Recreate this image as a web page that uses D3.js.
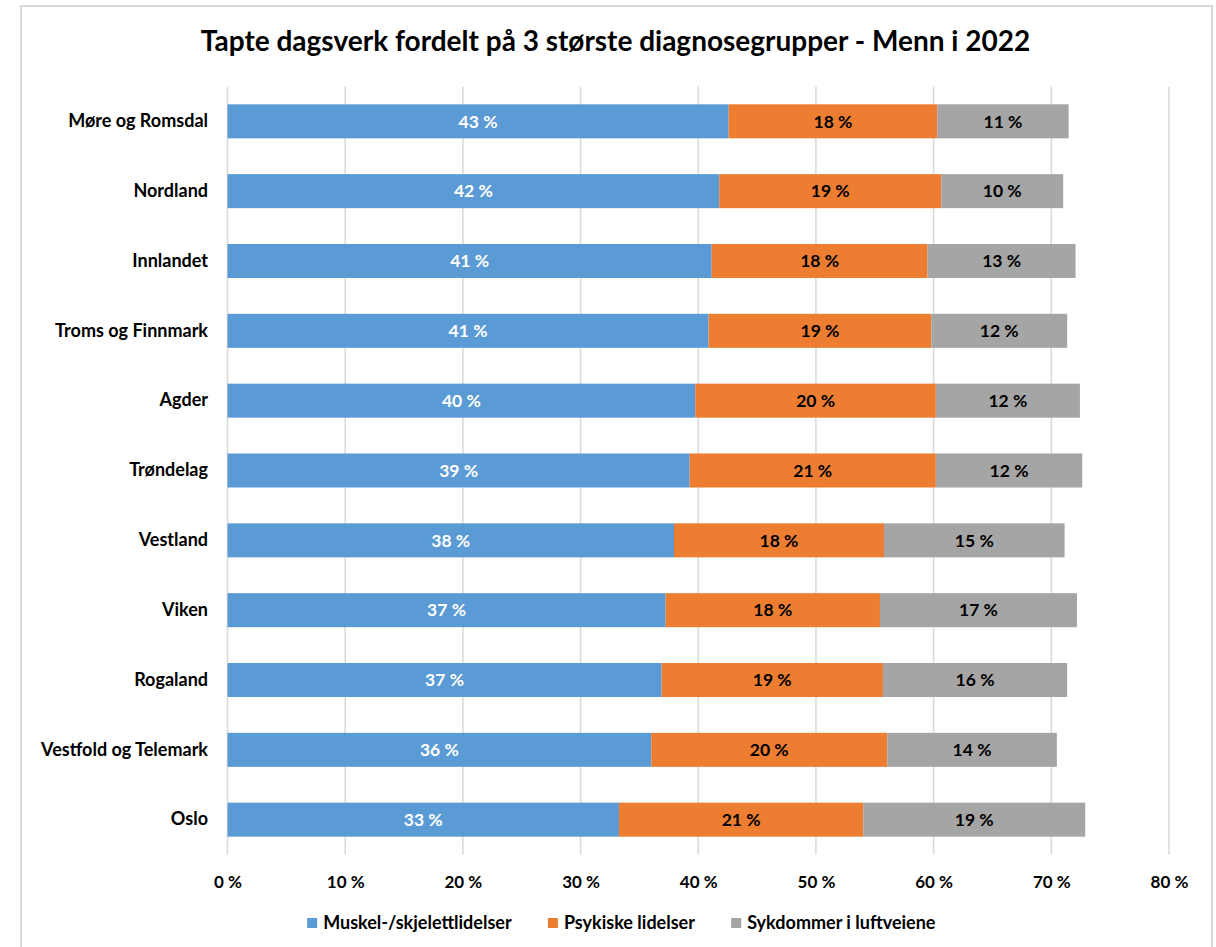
<!DOCTYPE html>
<html lang="no">
<head>
<meta charset="utf-8">
<title>Tapte dagsverk fordelt på 3 største diagnosegrupper - Menn i 2022</title>
<script src="https://cdn.jsdelivr.net/npm/d3@7"></script>
<style>
  html, body { margin: 0; padding: 0; background: #fff; }
  svg { display: block; }
  text { font-family: Lato, "Open Sans", "Noto Sans", sans-serif; font-weight: 700; fill: #000; }
</style>
</head>
<body>
<svg id="chart" width="1216" height="947"></svg>
<script>
// Regions, top to bottom
const regions = [
  "Møre og Romsdal", "Nordland", "Innlandet", "Troms og Finnmark", "Agder",
  "Trøndelag", "Vestland", "Viken", "Rogaland", "Vestfold og Telemark", "Oslo"
];

// Share of lost work days (%) per diagnosis group
const muskel  = [42.58, 41.78, 41.14, 40.88, 39.75, 39.27, 37.94, 37.23, 36.89, 36.01, 33.26];
const psykisk = [17.73, 18.87, 18.35, 18.92, 20.44, 20.92, 17.84, 18.21, 18.80, 20.05, 20.76];
const luftvei = [11.16, 10.36, 12.57, 11.55, 12.24, 12.44, 15.35, 16.74, 15.66, 14.41, 18.86];

const seriesNames = ["Muskel-/skjelettlidelser", "Psykiske lidelser", "Sykdommer i luftveiene"];
const seriesColors = ["#5B9BD5", "#ED7D31", "#A5A5A5"];
const labelColors = ["#ffffff", "#000000", "#000000"];

const xTicks = [0, 10, 20, 30, 40, 50, 60, 70, 80];
const title = "Tapte dagsverk fordelt på 3 største diagnosegrupper - Menn i 2022";

const svg = d3.select("#chart");

// Outer frame
svg.append("rect")
  .attr("x", 21).attr("y", 6)
  .attr("width", 1191).attr("height", 980)
  .attr("fill", "#fff")
  .attr("stroke", "#d9d9d9").attr("stroke-width", 2);

const plot = { left: 227.5, right: 1169, top: 86.4, bottom: 854.6 };

const x = d3.scaleLinear().domain([0, 80]).range([plot.left, plot.right]);
const y = d3.scaleBand().domain(regions)
  .range([plot.top, plot.bottom])
  .paddingInner(0.513).paddingOuter(0.2565);

// Title
svg.append("text")
  .attr("x", 615.5).attr("y", 51)
  .attr("text-anchor", "middle")
  .style("font-size", "28px")
  .text(title);

// Vertical gridlines
svg.append("g").selectAll("line")
  .data(xTicks).join("line")
  .attr("x1", d => x(d)).attr("x2", d => x(d))
  .attr("y1", plot.top).attr("y2", plot.bottom)
  .attr("stroke", "#d9d9d9").attr("stroke-width", 1.5);

// X axis labels
const xAxis = d3.axisBottom(x).tickValues(xTicks)
  .tickFormat(d => d + " %").tickSize(0).tickPadding(0);
const xg = svg.append("g")
  .attr("transform", `translate(0,${plot.bottom})`)
  .call(xAxis);
xg.select(".domain").remove();
xg.selectAll("text")
  .attr("y", 27).attr("dy", "0.35em")
  .style("font-size", "17px")
  .style("font-family", null);

// Y axis labels
const yAxis = d3.axisLeft(y).tickSize(0).tickPadding(0);
const yg = svg.append("g")
  .attr("transform", `translate(208,0)`)
  .call(yAxis);
yg.select(".domain").remove();
yg.selectAll("text")
  .attr("x", 0)
  .style("font-size", "18px")
  .style("font-family", null);

// Stacked data
const rows = regions.map((r, i) => ({ region: r, s0: muskel[i], s1: psykisk[i], s2: luftvei[i] }));
const stack = d3.stack().keys(["s0", "s1", "s2"]);
const layers = stack(rows);

const layerG = svg.append("g").selectAll("g")
  .data(layers).join("g")
  .attr("fill", (d, i) => seriesColors[i]);

layerG.selectAll("rect")
  .data(d => d).join("rect")
  .attr("x", d => x(d[0]))
  .attr("y", d => y(d.data.region))
  .attr("width", d => x(d[1]) - x(d[0]))
  .attr("height", y.bandwidth());

// Value labels
const labelG = svg.append("g").selectAll("g")
  .data(layers).join("g")
  .style("fill", (d, i) => labelColors[i]);

labelG.selectAll("text")
  .data(d => d).join("text")
  .attr("x", d => (x(d[0]) + x(d[1])) / 2)
  .attr("y", d => y(d.data.region) + y.bandwidth() / 2)
  .attr("dy", "0.36em")
  .attr("text-anchor", "middle")
  .style("font-size", "17.5px")
  .style("fill", "inherit")
  .text(d => Math.round(d[1] - d[0]) + " %");

// Legend
const legend = svg.append("g").attr("transform", "translate(0,923)");
const items = legend.selectAll("g").data(seriesNames).join("g");
items.append("rect")
  .attr("width", 10).attr("height", 10)
  .attr("y", -5)
  .attr("fill", (d, i) => seriesColors[i]);
items.append("text")
  .attr("x", 16).attr("dy", "0.35em")
  .style("font-size", "18px")
  .text(d => d);

let widths = [];
items.each(function () { widths.push(this.getBBox().width); });
const gap = 36;
const total = d3.sum(widths) + gap * (widths.length - 1);
let cx = 621.5 - total / 2;
items.attr("transform", (d, i) => {
  const t = `translate(${cx},0)`;
  cx += widths[i] + gap;
  return t;
});
</script>
</body>
</html>
